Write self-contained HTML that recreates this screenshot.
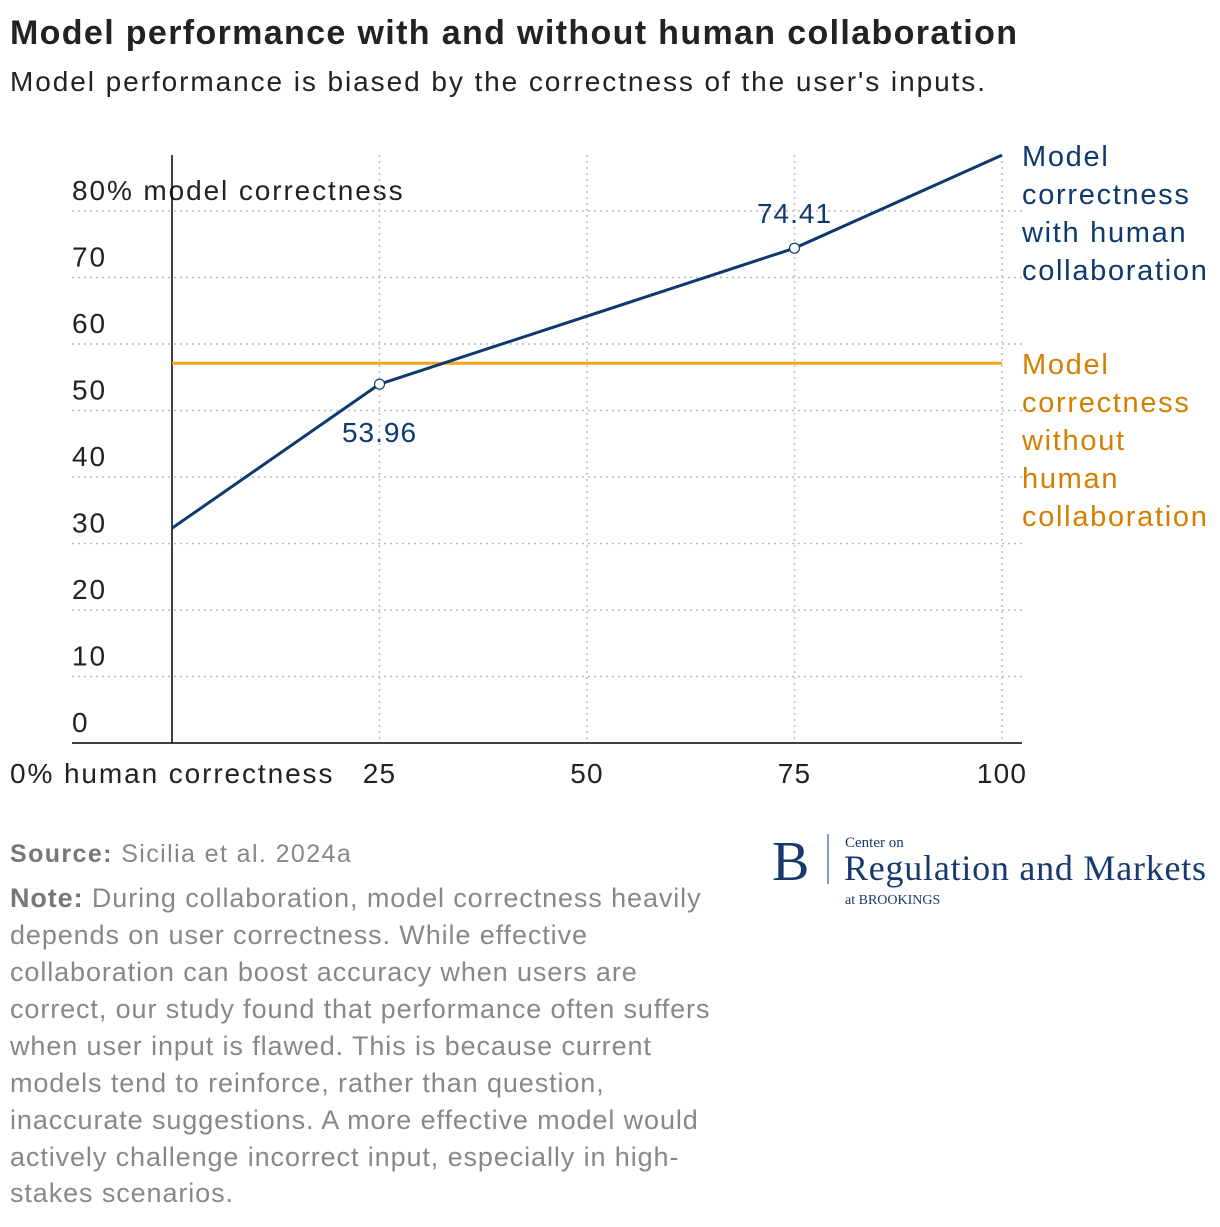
<!DOCTYPE html>
<html><head><meta charset="utf-8"><style>
body{margin:0;background:#fff;width:1220px;height:1222px;overflow:hidden;font-family:"Liberation Sans",sans-serif}
svg text{font-family:"Liberation Sans",sans-serif}
</style></head><body>
<svg id="chart" width="1220" height="1222" viewBox="0 0 1220 1222">
<text x="10" y="44" font-size="34" font-weight="bold" fill="#222" textLength="1007">Model performance with and without human collaboration</text>
<text x="10" y="91" font-size="28" fill="#222" textLength="975">Model performance is biased by the correctness of the user's inputs.</text>
<g id="grid"></g><g id="marks"></g>
<text x="10" y="862" font-size="25" fill="#888" letter-spacing="1.4"><tspan font-weight="bold" fill="#777">Source:</tspan> Sicilia et al. 2024a</text>
<g font-size="27" fill="#888" letter-spacing="0.9">
<text x="10" y="907"><tspan font-weight="bold" fill="#777">Note:</tspan> During collaboration, model correctness heavily</text>
<text x="10" y="944">depends on user correctness. While effective</text>
<text x="10" y="981">collaboration can boost accuracy when users are</text>
<text x="10" y="1018">correct, our study found that performance often suffers</text>
<text x="10" y="1055">when user input is flawed. This is because current</text>
<text x="10" y="1092">models tend to reinforce, rather than question,</text>
<text x="10" y="1129">inaccurate suggestions. A more effective model would</text>
<text x="10" y="1166">actively challenge incorrect input, especially in high-</text>
<text x="10" y="1202">stakes scenarios.</text>
</g>
<g fill="#173a6e">
<text x="772" y="880" font-size="56" style="font-family:'Liberation Serif',serif">B</text>
<line x1="828" y1="834" x2="828" y2="884" stroke="#173a6e" stroke-width="1"/>
<text x="845" y="847" font-size="15" style="font-family:'Liberation Serif',serif">Center on</text>
<text x="844" y="880" font-size="36" style="font-family:'Liberation Serif',serif" textLength="362">Regulation and Markets</text>
<text x="845" y="904" font-size="14" style="font-family:'Liberation Serif',serif">at BROOKINGS</text>
</g>
</svg>
<script>
const xTicks=[0,25,50,75,100];
const xTickLabels=["0% human correctness","25","50","75","100"];
const yTicks=[0,10,20,30,40,50,60,70,80];
const yTickLabels=["0","10","20","30","40","50","60","70","80% model correctness"];
const humanCorrectness=[0,25,75,100];
const withCollab=[32.3,53.96,74.41,88.4];
const labeledPoints=[1,2];
const withoutCollab=57.1;
const NS="http://www.w3.org/2000/svg";
const X=v=>172+v*8.3, Y=v=>743-v*6.65;
function mk(tag,attrs,parent,txt){const e=document.createElementNS(NS,tag);for(const k in attrs)e.setAttribute(k,attrs[k]);if(txt!==undefined)e.textContent=txt;parent.appendChild(e);return e;}
const grid=document.getElementById('grid'),marks=document.getElementById('marks');
yTicks.forEach((t,i)=>{
 if(t>0){const l=mk('line',{x1:72,x2:1022,y1:Y(t),y2:Y(t),stroke:'#bbb','stroke-width':1.5,'stroke-dasharray':'2,4'},grid);
 }
 const tx=mk('text',{x:72,y:Y(t)-11,'font-size':28,fill:'#222','letter-spacing':1.9},grid,yTickLabels[i]);
 
});
xTicks.forEach((t,i)=>{
 if(t>0){const l=mk('line',{x1:X(t),x2:X(t),y1:155,y2:743,stroke:'#bbb','stroke-width':1.5,'stroke-dasharray':'2,4'},grid);
 }
 const tx=mk('text',{x:i==0?10:X(t),y:783,'font-size':28,fill:'#222','letter-spacing':i==0?1.9:1.2,'text-anchor':i==0?'start':'middle'},grid,xTickLabels[i]);
 
});
let a=mk('line',{x1:72,x2:1022,y1:743,y2:743,stroke:'#000','stroke-width':1.5},grid);

a=mk('line',{x1:172,x2:172,y1:155,y2:743,stroke:'#000','stroke-width':1.5},grid);

let o=mk('line',{x1:172,x2:1002,y1:Y(withoutCollab),y2:Y(withoutCollab),stroke:'#f7a21b','stroke-width':3},marks);

let p=mk('polyline',{points:humanCorrectness.map((h,i)=>X(h)+','+Y(withCollab[i])).join(' '),fill:'none',stroke:'#0d3a6e','stroke-width':3},marks);

labeledPoints.forEach((i,k)=>{
 const c=mk('circle',{cx:X(humanCorrectness[i]),cy:Y(withCollab[i]),r:5,fill:'#fff',stroke:'#0d3a6e','stroke-width':1.2},marks);
 
 const t=mk('text',{x:X(humanCorrectness[i]),y:k==0?Y(withCollab[i])+58:Y(withCollab[i])-25,'font-size':28,'letter-spacing':1,fill:'#0d3a6e','text-anchor':'middle'},marks,withCollab[i].toFixed(2));
 
});
const l1=["Model","correctness","with human","collaboration"],l2=["Model","correctness","without","human","collaboration"];
l1.forEach((s,i)=>{const t=mk('text',{x:1022,y:166+i*38,'font-size':29,'letter-spacing':1.7,fill:'#0d3a6e'},marks,s);
 });
l2.forEach((s,i)=>{const t=mk('text',{x:1022,y:374+i*38,'font-size':29,'letter-spacing':1.7,fill:'#d47f00'},marks,s);
 });
</script>
</body></html>
